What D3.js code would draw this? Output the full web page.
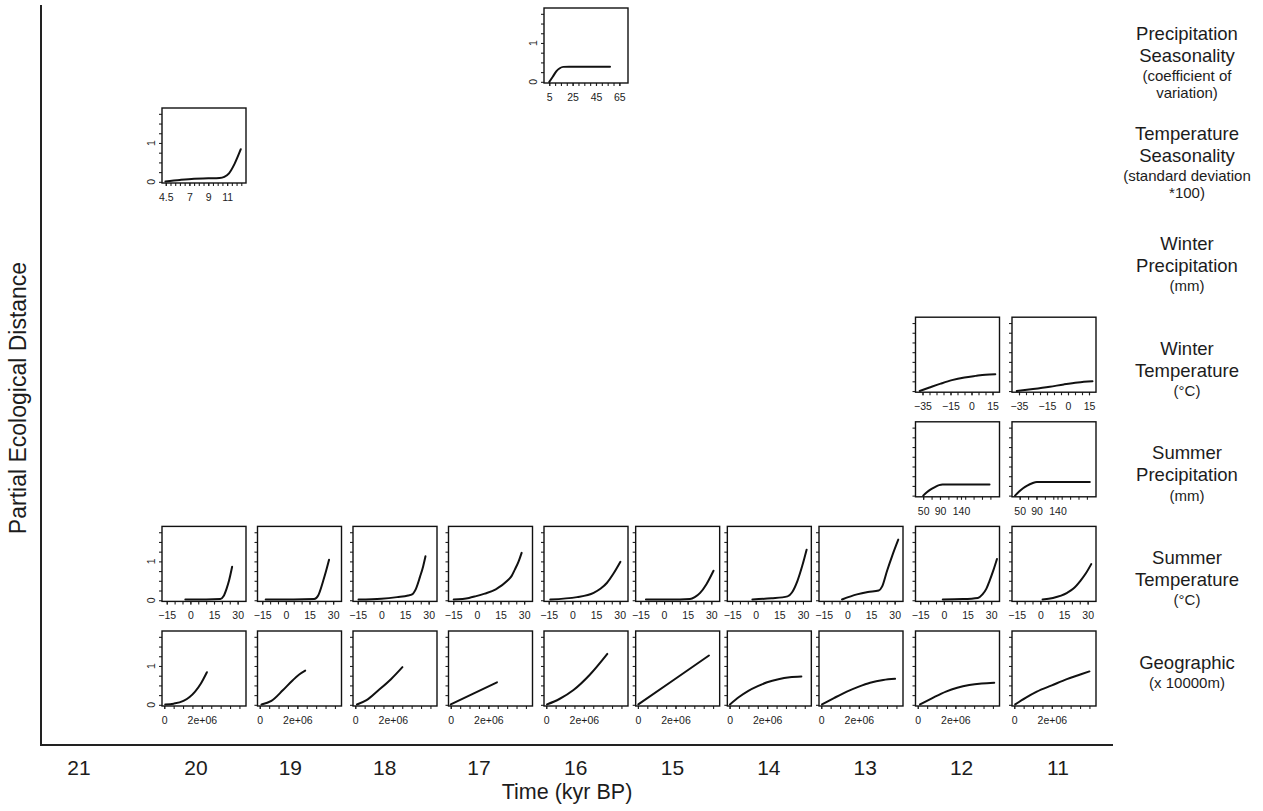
<!DOCTYPE html>
<html>
<head>
<meta charset="utf-8">
<script src="https://cdn.jsdelivr.net/npm/d3@7"></script>
<style>
  body { margin: 0; background: #fff; }
  svg { display: block; }
  text { font-family: "Liberation Sans", Arial, Helvetica, sans-serif; fill: #1c1c1c; }
</style>
</head>
<body>
<svg id="chart" width="1263" height="811"></svg>
<script>
// ---- time slices (kyr BP) ----
const years = [21, 20, 19, 18, 17, 16, 15, 14, 13, 12, 11];
const panelYears = [20, 19, 18, 17, 16, 15, 14, 13, 12, 11];

// ---- predictor rows, top to bottom ----
const rowKeys = ["precSeas", "tempSeas", "winterPrec", "winterTemp", "summerPrec", "summerTemp", "geo"];
const rowTitles = [
  ["Precipitation", "Seasonality"],
  ["Temperature", "Seasonality"],
  ["Winter", "Precipitation"],
  ["Winter", "Temperature"],
  ["Summer", "Precipitation"],
  ["Summer", "Temperature"],
  ["Geographic"]
];
const rowUnits = [
  ["(coefficient of", "variation)"],
  ["(standard deviation", "*100)"],
  ["(mm)"],
  ["(°C)"],
  ["(mm)"],
  ["(°C)"],
  ["(x 10000m)"]
];

// ---- shared y axis of every spline panel ----
const yDomain = [-0.03, 1.9];
const yTicks = [0, 0.25, 0.5, 0.75, 1, 1.25, 1.5, 1.75];
const yLabels = [0, 1];
// panels whose y tick labels are visible (the others are covered by their left neighbour)
const yLabelledPanels = ["precSeas-16", "tempSeas-20", "summerTemp-20", "geo-20"];

// ---- x axes per predictor ----
const precSeasDomain = [0.5, 72.4];
const precSeasTicks = [5, 10, 15, 20, 25, 30, 35, 40, 45, 50, 55, 60, 65];
const precSeasLabels = [5, 25, 45, 65];

const tempSeasDomain = [4.1, 13];
const tempSeasTicks = [4.5, 5, 5.5, 6, 6.5, 7, 7.5, 8, 8.5, 9, 9.5, 10, 10.5, 11, 11.5, 12, 12.5];
const tempSeasLabels = [4.5, 7, 9, 11];

const winterTempDomain = [-40, 20];
const winterTempTicks = [-35, -30, -25, -20, -15, -10, -5, 0, 5, 10, 15];
const winterTempLabels = [-35, -15, 0, 15];

const summerPrecDomain = [31.7, 231.7];
const summerPrecTicks = [50, 70, 90, 110, 130, 150, 170, 190, 210];
const summerPrecLabels = [50, 90, 140];

const summerTempDomain = [-18, 35.3];
const summerTempTicks = [-15, -10, -5, 0, 5, 10, 15, 20, 25, 30];
const summerTempLabels = [-15, 0, 15, 30];

const geoDomain = [-120000, 4350000];
const geoTicks = [0, 500000, 1000000, 1500000, 2000000, 2500000, 3000000, 3500000, 4000000];
const geoLabels = [0, 2000000];

// ---- fitted I-spline curves: [predictor value, partial ecological distance] ----
const precSeasCurves = {
  16: [[5, 0], [8, 0.13], [11, 0.27], [14, 0.35], [17, 0.385], [22, 0.39], [57, 0.39]]
};
const tempSeasCurves = {
  20: [[4.46, 0.01], [6, 0.05], [7.5, 0.08], [9, 0.09], [10.2, 0.1], [10.7, 0.13], [11.2, 0.22], [11.8, 0.47], [12.45, 0.84]]
};
const winterPrecCurves = {};
const winterTempCurves = {
  12: [[-37, 0], [-30, 0.09], [-22, 0.19], [-14, 0.28], [-5, 0.35], [3, 0.39], [10, 0.42], [17, 0.43]],
  11: [[-36.6, 0], [-25, 0.05], [-13, 0.11], [-3, 0.17], [7, 0.22], [17.5, 0.25]]
};
const summerPrecCurves = {
  12: [[50, 0], [58, 0.08], [68, 0.16], [78, 0.22], [88, 0.27], [96, 0.285], [208, 0.285]],
  11: [[39, 0], [48, 0.1], [58, 0.19], [68, 0.26], [80, 0.32], [91, 0.35], [217, 0.35]]
};
const summerTempCurves = {
  20: [[-3.2, 0.02], [10, 0.02], [19, 0.03], [21, 0.1], [23, 0.3], [24.5, 0.5], [26.5, 0.86]],
  19: [[-12.8, 0.02], [5, 0.02], [18, 0.03], [20.5, 0.12], [23.7, 0.5], [25.5, 0.75], [27.4, 1.04]],
  18: [[-14.5, 0.02], [0, 0.04], [10, 0.08], [17, 0.12], [19.5, 0.15], [22, 0.3], [24.5, 0.6], [26.5, 0.87], [28, 1.13]],
  17: [[-14.7, 0.02], [-5, 0.06], [-1, 0.1], [5, 0.17], [12, 0.28], [19.3, 0.5], [22, 0.62], [24, 0.78], [26.5, 1.0], [28.4, 1.22]],
  16: [[-14, 0.02], [3, 0.08], [13.5, 0.19], [18, 0.3], [22, 0.45], [26, 0.68], [30.5, 0.99]],
  15: [[-11.5, 0.02], [10, 0.02], [16.5, 0.03], [19.5, 0.08], [22.9, 0.19], [27, 0.42], [31.4, 0.76]],
  14: [[-2.1, 0.02], [10, 0.05], [20.2, 0.1], [23, 0.2], [26.5, 0.5], [29.5, 0.88], [32.3, 1.3]],
  13: [[-3.4, 0.02], [6.1, 0.15], [13, 0.21], [19.9, 0.25], [22, 0.35], [25.2, 0.76], [28.5, 1.15], [32.3, 1.56]],
  12: [[-0.7, 0.02], [12, 0.03], [21.6, 0.06], [24.5, 0.15], [27, 0.3], [29, 0.5], [31.5, 0.78], [33.7, 1.06]],
  11: [[1.4, 0.02], [8, 0.06], [17, 0.19], [21, 0.3], [25.4, 0.5], [29, 0.7], [32.3, 0.93]]
};
const geoCurves = {
  20: [[50000, 0.01], [500000, 0.03], [1020000, 0.1], [1350000, 0.2], [1640000, 0.34], [1950000, 0.55], [2270000, 0.84]],
  19: [[90000, 0.01], [620000, 0.1], [1240000, 0.38], [1770000, 0.64], [2100000, 0.78], [2420000, 0.88]],
  18: [[90000, 0.01], [600000, 0.12], [1220000, 0.37], [1900000, 0.66], [2510000, 0.97]],
  17: [[0, 0.01], [1200000, 0.29], [2460000, 0.58]],
  16: [[40000, 0.01], [700000, 0.15], [1450000, 0.38], [2330000, 0.78], [3250000, 1.31]],
  15: [[20000, 0.01], [1900000, 0.64], [3780000, 1.27]],
  14: [[20000, 0.01], [500000, 0.2], [1000000, 0.36], [1500000, 0.48], [2000000, 0.58], [2600000, 0.66], [3200000, 0.71], [3820000, 0.73]],
  13: [[40000, 0.01], [700000, 0.18], [1360000, 0.34], [2000000, 0.47], [2600000, 0.57], [3300000, 0.64], [3930000, 0.67]],
  12: [[120000, 0.01], [800000, 0.18], [1500000, 0.34], [2100000, 0.44], [2740000, 0.51], [3400000, 0.55], [4070000, 0.57]],
  11: [[50000, 0.01], [600000, 0.18], [1200000, 0.34], [2000000, 0.5], [2800000, 0.66], [3400000, 0.76], [4000000, 0.86]]
};

// ---- per-row axis setup built from the arrays above ----
const minus = s => s.replace("-", "\u2212");
const rowAxes = {
  precSeas:   { domain: precSeasDomain,   ticks: precSeasTicks,   labels: precSeasLabels,   fmt: d => String(d), curves: precSeasCurves },
  tempSeas:   { domain: tempSeasDomain,   ticks: tempSeasTicks,   labels: tempSeasLabels,   fmt: d => String(d), curves: tempSeasCurves },
  winterPrec: { domain: [0, 1],           ticks: [],              labels: [],               fmt: d => String(d), curves: winterPrecCurves },
  winterTemp: { domain: winterTempDomain, ticks: winterTempTicks, labels: winterTempLabels, fmt: d => minus(String(d)), curves: winterTempCurves },
  summerPrec: { domain: summerPrecDomain, ticks: summerPrecTicks, labels: summerPrecLabels, fmt: d => String(d), curves: summerPrecCurves },
  summerTemp: { domain: summerTempDomain, ticks: summerTempTicks, labels: summerTempLabels, fmt: d => minus(String(d)), curves: summerTempCurves },
  geo:        { domain: geoDomain,        ticks: geoTicks,        labels: geoLabels,        fmt: d => d === 0 ? "0" : "2e+06", curves: geoCurves }
};

// ---- layout ----
const svg = d3.select("#chart");
const PW = 84, PH = 75;
const colScale = d3.scaleLinear().domain([20, 16, 13, 11]).range([162, 544, 819, 1012]);
const rowScale = d3.scaleLinear().domain([0, 1, 6]).range([8, 108, 631]);
const yearScale = d3.scaleLinear().domain([21, 20, 17, 15, 11]).range([79, 196, 479, 672.5, 1058]);
const axisLeftX = 41, axisBottomY = 745, axisTopY = 5, axisRightX = 1113;

// outer frame: time axis and distance axis
svg.append("line")
  .attr("x1", axisLeftX).attr("x2", axisLeftX)
  .attr("y1", axisTopY).attr("y2", axisBottomY)
  .attr("stroke", "#222").attr("stroke-width", 2);
svg.append("line")
  .attr("x1", axisLeftX - 1).attr("x2", axisRightX)
  .attr("y1", axisBottomY).attr("y2", axisBottomY)
  .attr("stroke", "#222").attr("stroke-width", 2.2);

// time slice labels
svg.append("g").selectAll("text").data(years).join("text")
  .attr("x", d => yearScale(d))
  .attr("y", 775)
  .attr("text-anchor", "middle")
  .style("font-size", "21px")
  .text(d => d3.format("d")(d));

svg.append("text")
  .attr("x", 567).attr("y", 799)
  .attr("text-anchor", "middle")
  .style("font-size", "21.5px")
  .text("Time (kyr BP)");

svg.append("text")
  .attr("transform", "translate(26,398) rotate(-90)")
  .attr("text-anchor", "middle")
  .style("font-size", "23px")
  .text("Partial Ecological Distance");

// row labels on the right
const labelX = 1187;
rowKeys.forEach((key, i) => {
  const top = rowScale(i);
  const nLines = rowTitles[i].length + rowUnits[i].length;
  let yc = top + (nLines >= 4 ? 25 : 31);
  const g = svg.append("g");
  rowTitles[i].forEach((t, j) => {
    if (j > 0) yc += 22;
    g.append("text").attr("x", labelX).attr("y", yc + 6.5)
      .attr("text-anchor", "middle").style("font-size", "18.5px").text(t);
  });
  rowUnits[i].forEach((t, j) => {
    yc += (j === 0 ? 20.5 : 17);
    g.append("text").attr("x", labelX).attr("y", yc + 5.2)
      .attr("text-anchor", "middle").style("font-size", "15px").text(t);
  });
});

// spline panels
const line = d3.line().curve(d3.curveMonotoneX);

rowKeys.forEach((key, i) => {
  const ax = rowAxes[key];
  panelYears.forEach(yr => {
    const pts = ax.curves[yr];
    if (!pts) return;
    const g = svg.append("g")
      .attr("transform", `translate(${colScale(yr)},${rowScale(i)})`);
    const x = d3.scaleLinear().domain(ax.domain).range([0, PW]);
    const y = d3.scaleLinear().domain(yDomain).range([PH, 0]);

    // x ticks (all) and labelled ticks
    const xMinor = g.append("g").attr("transform", `translate(0,${PH})`)
      .call(d3.axisBottom(x).tickValues(ax.ticks).tickSize(3).tickFormat(() => ""));
    xMinor.select(".domain").remove();
    const xMajor = g.append("g").attr("transform", `translate(0,${PH})`)
      .call(d3.axisBottom(x).tickValues(ax.labels).tickSize(3).tickPadding(7.5).tickFormat(ax.fmt));
    xMajor.select(".domain").remove();

    // y ticks
    const yAx = g.append("g")
      .call(d3.axisLeft(y).tickValues(yTicks).tickSize(3).tickFormat(() => ""));
    yAx.select(".domain").remove();

    g.selectAll(".tick line").attr("stroke", "#222").attr("stroke-width", 1.1);
    g.selectAll(".tick text")
      .attr("fill", "#1c1c1c")
      .style("font-size", "10.5px")
      .style("font-family", "'Liberation Sans', Arial, sans-serif");

    // rotated y labels
    if (yLabelledPanels.includes(`${key}-${yr}`)) {
      g.selectAll("text.ylab").data(yLabels).join("text")
        .attr("class", "ylab")
        .attr("transform", d => `translate(-11,${y(d)}) rotate(-90)`)
        .attr("text-anchor", "middle")
        .attr("dominant-baseline", "central")
        .style("font-size", "10.5px")
        .text(d => String(d));
    }

    // frame
    g.append("rect")
      .attr("width", PW).attr("height", PH)
      .attr("fill", "none").attr("stroke", "#111").attr("stroke-width", 1.4);

    // fitted curve
    g.append("path")
      .datum(pts.map(p => [x(p[0]), y(p[1])]))
      .attr("d", line)
      .attr("fill", "none")
      .attr("stroke", "#111")
      .attr("stroke-width", 2)
      .attr("stroke-linecap", "round");
  });
});
</script>
</body>
</html>
